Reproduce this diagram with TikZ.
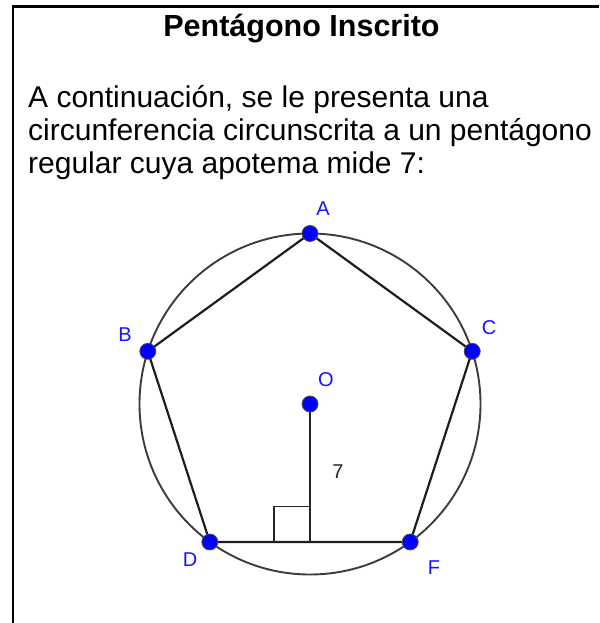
\documentclass[tikz,border=0pt]{standalone}
\usepackage{fontspec}
\setmainfont{Liberation Sans}
\definecolor{ggblue}{RGB}{0,0,255}
\definecolor{lblblue}{RGB}{20,20,255}
\definecolor{circgray}{RGB}{60,60,60}
\definecolor{edgegray}{RGB}{30,30,30}
\tikzset{
  frameline/.style={line width=2.3pt, black},
  edgeline/.style={line width=2.2pt, edgegray},
  circline/.style={line width=1.9pt, circgray},
  thinline/.style={line width=1.5pt, black!85},
  ptdot/.style={circle, fill=ggblue, draw=black!70, line width=0.8pt, minimum size=16pt, inner sep=0pt},
  ptlabel/.style={text=lblblue, font=\fontsize{20}{22}\selectfont, inner sep=0pt},
  bodytext/.style={anchor=base west, inner sep=0pt, font=\fontsize{30}{34}\selectfont},
}
\begin{document}
\begin{tikzpicture}[x=1pt, y=-1pt]
\useasboundingbox (0,0) rectangle (599,623);
\fill[white] (0,0) rectangle (599,623);
% frame
\coordinate (fBL) at (13,623);
\coordinate (fTL) at (13,6.5);
\coordinate (fTR) at (599,6.5);
\draw[frameline] (fBL) -- (fTL) -- (fTR);
% texts
\node[anchor=base, inner sep=0pt, font=\bfseries\fontsize{30.5}{34}\selectfont] (title) at (301.5,37) {Pentágono Inscrito};
\node[bodytext] (l1) at (28,107) {A continuación, se le presenta una};
\node[bodytext] (l2) at (28,140) {circunferencia circunscrita a un pentágono};
\node[bodytext] (l3) at (28,173) {regular cuya apotema mide 7:};
% geometry
\coordinate (pO) at (310,404);
\coordinate (pA) at (310,233.5);
\coordinate (pB) at (147.8,351.3);
\coordinate (pC) at (472.2,351.3);
\coordinate (pD) at (209.8,542);
\coordinate (pF) at (410.2,542);
\coordinate (pH) at (310,542);
\coordinate (sq1) at (274,542);
\coordinate (sq2) at (274,506.5);
\coordinate (sq3) at (310,506.5);
\draw[circline] (pO) circle[radius=170.5pt];
\draw[edgeline, line join=round] (pA) -- (pC) -- (pF) -- (pD) -- (pB) -- cycle;
\draw[thinline] (pO) -- (pH);
\draw[thinline] (sq1) -- (sq2) -- (sq3);
% points
\node[ptdot] (A) at (pA) {};
\node[ptdot] (B) at (pB) {};
\node[ptdot] (C) at (pC) {};
\node[ptdot] (D) at (pD) {};
\node[ptdot] (F) at (pF) {};
\node[ptdot] (O) at (pO) {};
% labels
\node[ptlabel] (lA) at (323,209) {A};
\node[ptlabel] (lB) at (125,335) {B};
\node[ptlabel] (lC) at (489,327.5) {C};
\node[ptlabel] (lO) at (326,379.5) {O};
\node[ptlabel] (lD) at (190,559.5) {D};
\node[ptlabel] (lF) at (434,568) {F};
\node[inner sep=0pt, text=black!85, font=\fontsize{20}{22}\selectfont] (l7) at (338,471.5) {7};
\end{tikzpicture}
\end{document}
